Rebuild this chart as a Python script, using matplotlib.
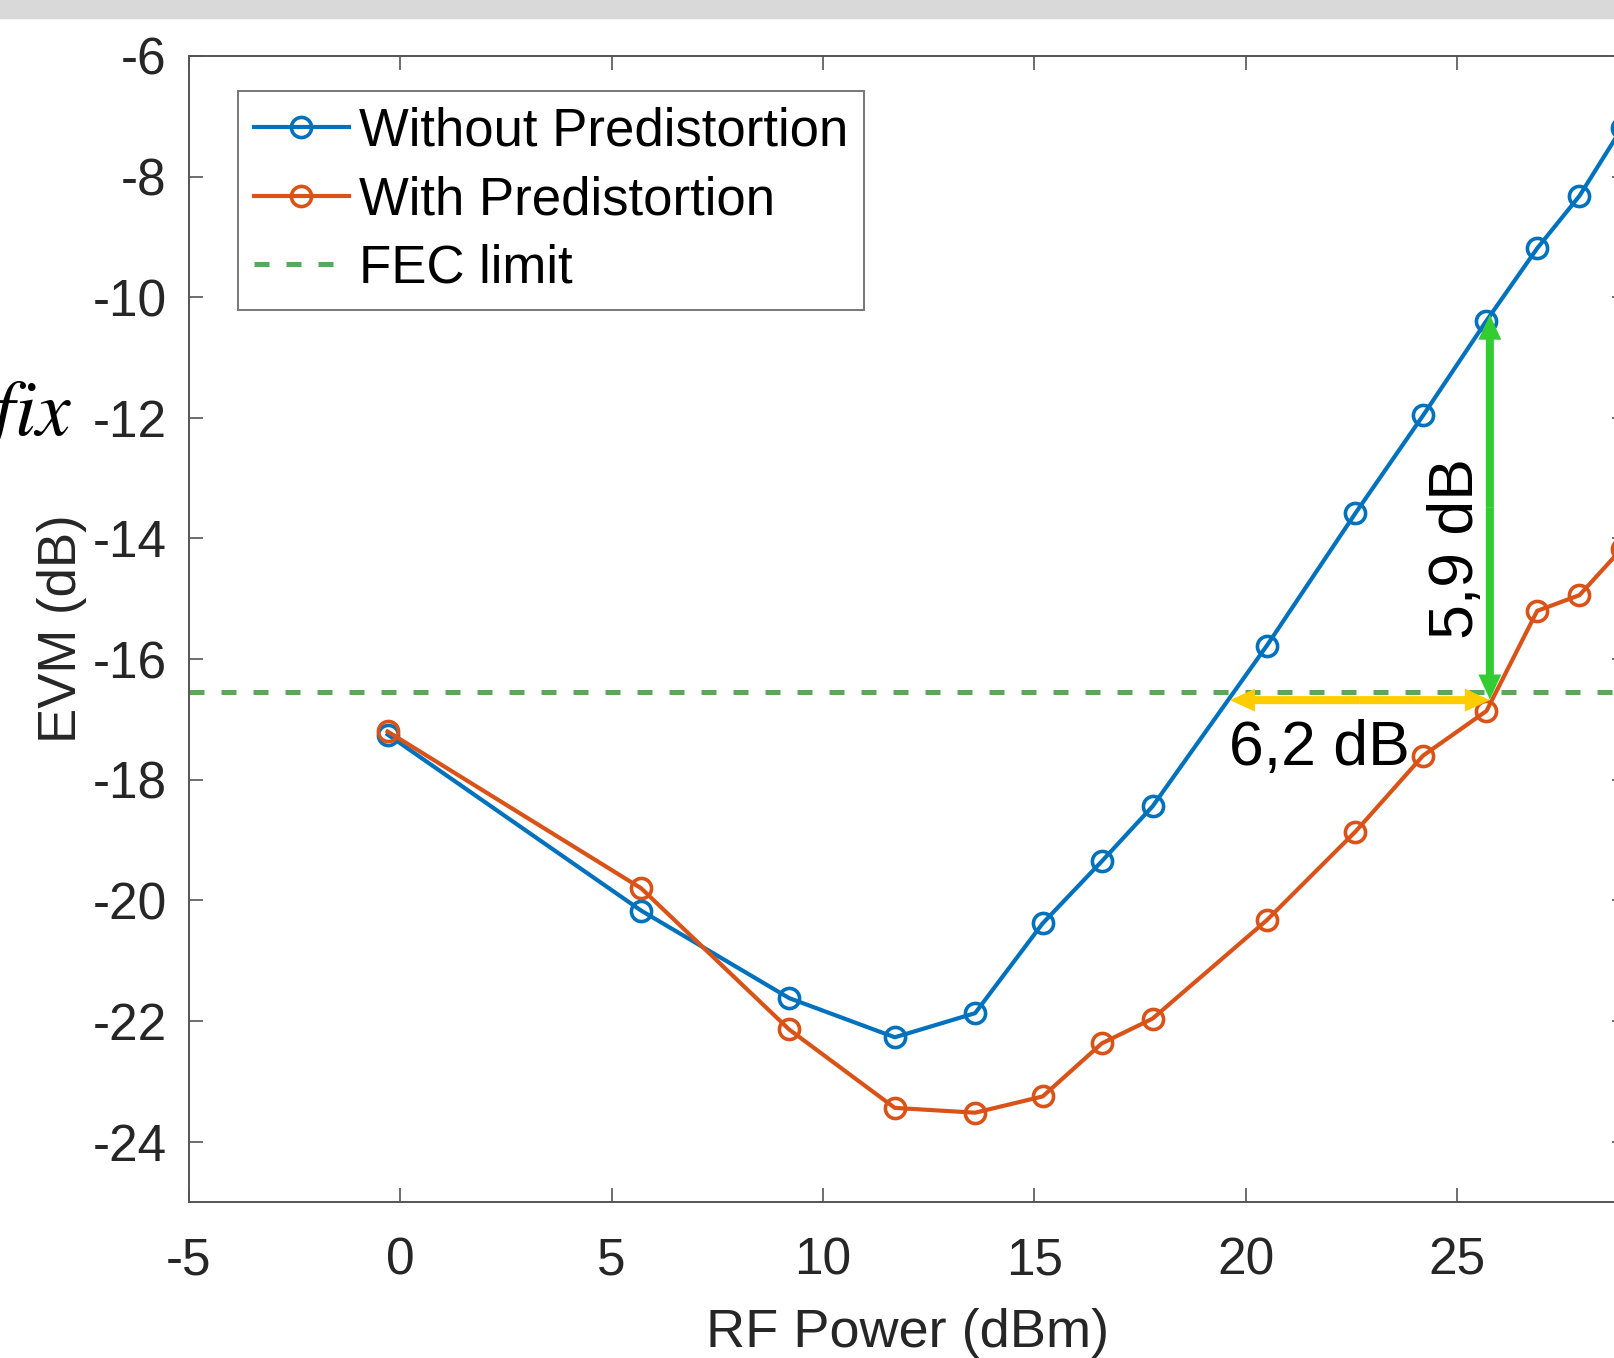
import matplotlib.pyplot as plt
from matplotlib.patches import Rectangle

plt.rcParams['font.family'] = ['Liberation Sans', 'DejaVu Sans']
plt.rcParams['mathtext.fontset'] = 'stix'
plt.rcParams['axes.unicode_minus'] = False

# measured values (EVM in dB vs RF power in dBm)
rf_power = [-0.3, 5.7, 9.2, 11.7, 13.6, 15.2, 16.6, 17.8, 20.5, 22.6, 24.2, 25.7, 26.9, 27.9, 28.9]
evm_without = [-17.25, -20.17, -21.62, -22.27, -21.87, -20.38, -19.35, -18.44,
               -15.78, -13.58, -11.96, -10.39, -9.19, -8.32, -7.2]
evm_with = [-17.2, -19.8, -22.14, -23.44, -23.52, -23.25, -22.37, -21.96,
            -20.33, -18.86, -17.6, -16.86, -15.2, -14.94, -14.17]
fec_limit = -16.55

# annotation geometry (data units)
gain_x = 25.78
gain_top, gain_bottom = -10.29, -16.67
span_y = -16.68
span_left, span_right = 19.63, 25.78

fig = plt.figure(figsize=(16.14, 13.58), dpi=100)
fig.patches.append(Rectangle((0, 1 - 18 / 1358), 1, 18 / 1358, transform=fig.transFigure,
                             color='#d9d9d9', zorder=0))

ax = fig.add_axes([0.1171, 0.1149, 0.8903, 0.8439])

ax.plot(rf_power, evm_without, '-o', color='#0072BD', lw=3.0, ms=14.5, mew=2.6,
        mfc='none', label='Without Predistortion')
ax.plot(rf_power, evm_with, '-o', color='#D95319', lw=3.0, ms=14.5, mew=2.6,
        mfc='none', label='With Predistortion')
ax.axhline(fec_limit, color='#59a959', lw=3.6, dashes=(3, 3.4), label='FEC limit')


def double_arrow(p0, p1, color):
    mid = ((p0[0] + p1[0]) / 2, (p0[1] + p1[1]) / 2)
    style = 'simple,head_length=1.8,head_width=1.65,tail_width=0.58'
    for end in (p0, p1):
        ax.annotate('', xy=end, xytext=mid,
                    arrowprops=dict(arrowstyle=style, color=color, lw=0,
                                    shrinkA=0, shrinkB=0, mutation_scale=10))


double_arrow((gain_x, gain_top), (gain_x, gain_bottom), '#33cc33')
double_arrow((span_left, span_y), (span_right, span_y), '#ffcc00')

ax.text(25.0, -14.16, '5,9 dB', rotation=90, ha='center', va='center', fontsize=45)
ax.text(21.75, -17.75, '6,2 dB', ha='center', va='baseline', fontsize=45)

ax.set_xlim(-5, 29)
ax.set_ylim(-25, -6)
ax.set_xticks(range(-5, 30, 5))
ax.set_yticks(range(-24, -5, 2))
ax.set_xlabel('RF Power (dBm)', fontsize=39, color='#262626', labelpad=16)
ax.set_ylabel('EVM (dB)', fontsize=38, color='#262626', labelpad=4)

for s in ax.spines.values():
    s.set_color('#555555')
    s.set_linewidth(1.4)
ax.tick_params(axis='both', direction='in', length=10, width=1.2, color='#555555',
               labelsize=37, labelcolor='#262626', top=True, right=True)
ax.tick_params(axis='x', pad=25)
ax.tick_params(axis='y', pad=16)

leg = ax.legend(loc='upper left', bbox_to_anchor=(0.0341, 0.9695), borderaxespad=0,
                fontsize=38, frameon=True, fancybox=False, borderpad=0.3,
                handlelength=1.8, handletextpad=0.2, labelspacing=0.35)
leg.get_frame().set_edgecolor('#555555')
leg.get_frame().set_linewidth(1.4)

fig.text(72 / 1614, 1 - 435 / 1358, r'$fix$', ha='right', va='baseline', fontsize=56)

fig.savefig('out.png', dpi=100)
